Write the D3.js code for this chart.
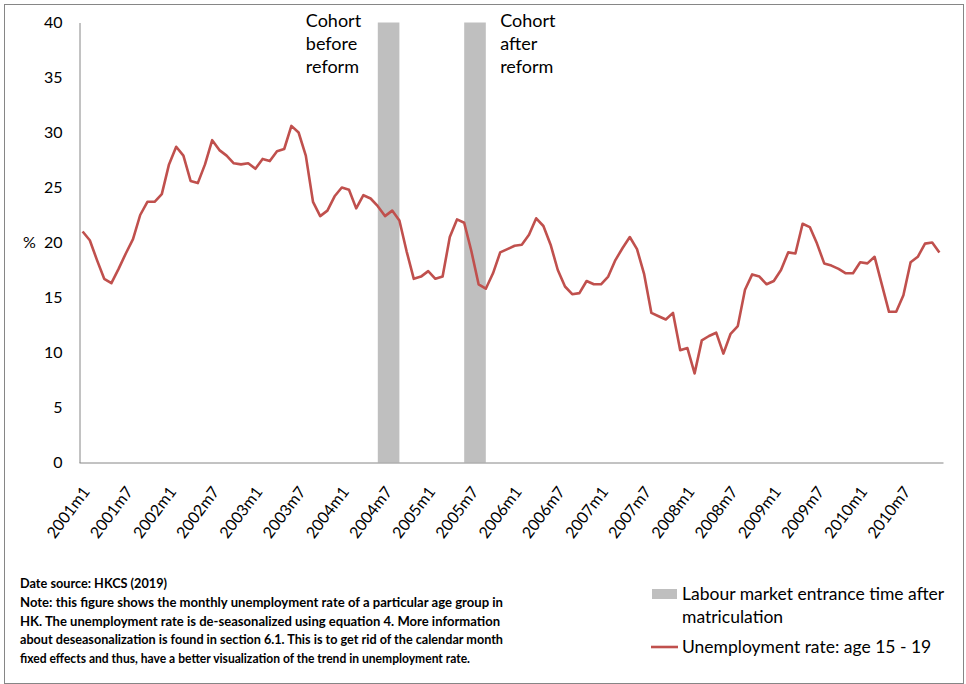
<!DOCTYPE html>
<html>
<head>
<meta charset="utf-8">
<script src="https://cdn.jsdelivr.net/npm/d3@7"></script>
<style>
  html, body { margin: 0; padding: 0; background: #fff; }
  svg { display: block; font-family: Lato, "Open Sans", sans-serif; }
</style>
</head>
<body>
<svg id="chart" width="966" height="684"></svg>
<script>
// ---------- DATA ----------
const years = [2001, 2002, 2003, 2004, 2005, 2006, 2007, 2008, 2009, 2010];
const months = [];
years.forEach(y => { for (let m = 1; m <= 12; m++) months.push(y + "m" + m); });

const tickLabels = ["2001m1","2001m7","2002m1","2002m7","2003m1","2003m7","2004m1","2004m7",
  "2005m1","2005m7","2006m1","2006m7","2007m1","2007m7","2008m1","2008m7","2009m1","2009m7",
  "2010m1","2010m7"];

const yTicks = [0, 5, 10, 15, 20, 25, 30, 35, 40];

// Unemployment rate, age 15-19 (de-seasonalized), monthly 2001m1 - 2010m12
const unemployment = [
  21.0, 20.2, 18.4, 16.7, 16.3, 17.6, 19.0, 20.3, 22.5, 23.7, 23.7, 24.4,
  27.1, 28.7, 27.9, 25.6, 25.4, 27.1, 29.3, 28.4, 27.9, 27.2, 27.1, 27.2,
  26.7, 27.6, 27.4, 28.3, 28.5, 30.6, 30.0, 27.9, 23.7, 22.4, 22.9, 24.2,
  25.0, 24.8, 23.1, 24.3, 24.0, 23.3, 22.4, 22.9, 22.0, 19.2, 16.7, 16.9,
  17.4, 16.7, 16.9, 20.5, 22.1, 21.8, 19.2, 16.2, 15.8, 17.2, 19.1, 19.4,
  19.7, 19.8, 20.7, 22.2, 21.5, 19.8, 17.5, 16.0, 15.3, 15.4, 16.5, 16.2,
  16.2, 16.9, 18.4, 19.5, 20.5, 19.4, 17.1, 13.6, 13.3, 13.0, 13.6, 10.2,
  10.4, 8.1, 11.1, 11.5, 11.8, 9.9, 11.7, 12.4, 15.7, 17.1, 16.9, 16.2,
  16.5, 17.5, 19.1, 19.0, 21.7, 21.4, 19.9, 18.1, 17.9, 17.6, 17.2, 17.2,
  18.2, 18.1, 18.7, 16.2, 13.7, 13.7, 15.2, 18.2, 18.7, 19.9, 20.0, 19.1
];

// Labour market entrance periods after matriculation (bar height = 40)
const entranceFrom = ["2004m6", "2005m6"];
const entranceTo   = ["2004m9", "2005m9"];
const entranceHeight = 40;

const cohortLabels = [["Cohort", "before", "reform"], ["Cohort", "after", "reform"]];
const cohortAnchor = ["2003m8", "2005m11"];

const legendLabels = [["Labour market entrance time after", "matriculation"], ["Unemployment rate: age 15 - 19"]];

const noteLines = [
  "Date source:  HKCS (2019)",
  "Note: this figure shows the monthly  unemployment  rate of a particular age group  in",
  "HK. The unemployment  rate is de-seasonalized using  equation 4. More information",
  "about  deseasonalization is found in section 6.1.  This is to get rid of the calendar month",
  "fixed effects and thus, have a better visualization of the trend in unemployment rate."
];
const noteWidths = [147, 483, 480, 483, 450];

// ---------- CHART ----------
const svg = d3.select("#chart");
const RED = "#C0504D", GRAY_BAR = "#BFBFBF", AXIS = "#868686";

svg.append("rect").attr("x", 4.5).attr("y", 4.5).attr("width", 959).attr("height", 679)
  .attr("fill", "#fff").attr("stroke", AXIS).attr("stroke-width", 1);

const x = d3.scalePoint().domain(months).range([79, 943]).padding(0.5);
const y = d3.scaleLinear().domain([0, 40]).range([462.5, 22.5]);

// entrance bars
svg.append("g").selectAll("rect").data(entranceFrom).join("rect")
  .attr("x", (d) => x(d))
  .attr("width", (d, i) => x(entranceTo[i]) - x(d))
  .attr("y", y(entranceHeight))
  .attr("height", y(0) - y(entranceHeight))
  .attr("fill", GRAY_BAR);

// axes
const yAxis = svg.append("g").attr("transform", "translate(79.5,0)")
  .call(d3.axisLeft(y).tickValues(yTicks).tickSize(0).tickPadding(17));
yAxis.select(".domain").attr("stroke", AXIS);
yAxis.selectAll("text").attr("font-size", 16).attr("fill", "#000").attr("font-family", "Lato");

svg.append("text").attr("x", 23).attr("y", y(20)).attr("dy", "0.35em")
  .attr("font-size", 16).attr("fill", "#000").text("%");

const xAxis = svg.append("g").attr("transform", "translate(0," + (y(0)) + ")")
  .call(d3.axisBottom(x).tickValues(tickLabels).tickSize(0));
xAxis.select(".domain").attr("stroke", AXIS);
xAxis.selectAll("text")
  .attr("font-size", 16).attr("fill", "#000").attr("font-family", "Lato")
  .attr("text-anchor", "end")
  .attr("x", 0).attr("y", 0).attr("dy", "0.35em")
  .attr("transform", "translate(3,26) rotate(-53)");

// line
const line = d3.line().x((d, i) => x(months[i])).y(d => y(d));
svg.append("path").datum(unemployment)
  .attr("d", line).attr("fill", "none").attr("stroke", RED)
  .attr("stroke-width", 2.6).attr("stroke-linejoin", "round");

// cohort labels
cohortLabels.forEach((lines, k) => {
  const t = svg.append("text").attr("font-size", 18).attr("fill", "#000");
  lines.forEach((s, j) => t.append("tspan").attr("x", x(cohortAnchor[k]))
    .attr("y", 27 + j * 23).text(s));
});

// legend
const lg = svg.append("g");
lg.append("rect").attr("x", 652).attr("y", 589).attr("width", 25).attr("height", 10).attr("fill", GRAY_BAR);
lg.append("line").attr("x1", 651).attr("x2", 678).attr("y1", 647).attr("y2", 647)
  .attr("stroke", RED).attr("stroke-width", 2.6);
const lt1 = lg.append("text").attr("font-size", 17.5).attr("fill", "#000");
legendLabels[0].forEach((s, j) => lt1.append("tspan").attr("x", 682).attr("y", 600 + j * 23).text(s));
lg.append("text").attr("font-size", 17.5).attr("fill", "#000").attr("x", 682).attr("y", 653).text(legendLabels[1][0]);

// note
const noteY = [587.5, 607, 625.5, 644, 662.5];
svg.append("g").selectAll("text").data(noteLines).join("text")
  .attr("x", 20).attr("y", (d, i) => noteY[i])
  .attr("font-size", 13.5).attr("font-weight", 700).attr("fill", "#000")
  .attr("textLength", (d, i) => noteWidths[i]).attr("lengthAdjust", "spacingAndGlyphs")
  .text(d => d);
</script>
</body>
</html>
